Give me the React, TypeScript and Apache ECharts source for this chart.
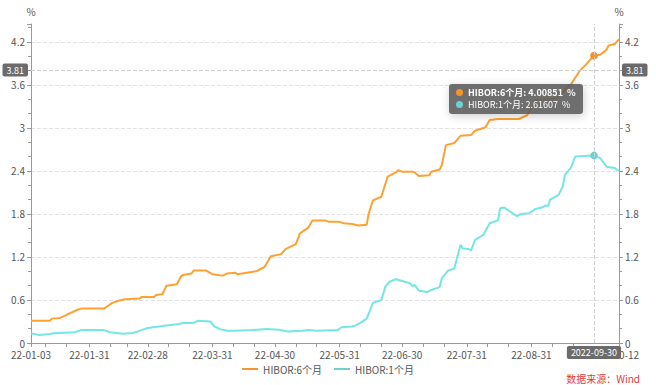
import React, { useEffect, useRef } from "react";
import * as echarts from "echarts";

const DATES_6M = [
  "2022-01-03","2022-01-12","2022-01-13","2022-01-17","2022-01-25","2022-01-27","2022-02-07","2022-02-09",
  "2022-02-11","2022-02-14","2022-02-17","2022-02-24","2022-02-25","2022-03-03","2022-03-04","2022-03-07",
  "2022-03-09","2022-03-14","2022-03-16","2022-03-17","2022-03-21","2022-03-22","2022-03-28","2022-03-31",
  "2022-04-05","2022-04-07","2022-04-11","2022-04-12","2022-04-21","2022-04-25","2022-04-28","2022-05-03",
  "2022-05-05","2022-05-10","2022-05-12","2022-05-16","2022-05-18","2022-05-24","2022-05-26","2022-05-31",
  "2022-06-02","2022-06-06","2022-06-09","2022-06-13","2022-06-14","2022-06-16","2022-06-20","2022-06-21",
  "2022-06-23","2022-06-27","2022-06-28","2022-06-30","2022-07-05","2022-07-06","2022-07-08","2022-07-13",
  "2022-07-14","2022-07-18","2022-07-19","2022-07-21","2022-07-25","2022-07-28","2022-08-02","2022-08-04",
  "2022-08-09","2022-08-11","2022-08-15","2022-08-25","2022-08-29","2022-09-01","2022-09-02","2022-09-12",
  "2022-09-16","2022-09-19","2022-09-23","2022-09-26","2022-09-30","2022-10-03","2022-10-06","2022-10-07",
  "2022-10-10","2022-10-12"
];
const VALUES_6M = [
  0.31,0.31,0.34,0.35,0.46,0.48,0.48,0.52,
  0.56,0.59,0.61,0.62,0.64,0.64,0.67,0.68,
  0.80,0.82,0.93,0.95,0.97,1.01,1.01,0.96,
  0.94,0.97,0.98,0.96,1.00,1.06,1.21,1.24,
  1.31,1.38,1.53,1.61,1.71,1.71,1.69,1.69,
  1.67,1.66,1.64,1.65,1.81,1.99,2.04,2.13,
  2.32,2.38,2.41,2.39,2.39,2.38,2.33,2.34,
  2.39,2.42,2.48,2.76,2.79,2.89,2.90,2.96,
  3.01,3.11,3.125,3.125,3.18,3.32,3.39,3.41,
  3.53,3.61,3.79,3.88,4.00851,4.02,4.09,4.15,
  4.17,4.24
];

const DATES_1M = [
  "2022-01-03","2022-01-07","2022-01-12","2022-01-14","2022-01-24","2022-01-27","2022-02-07","2022-02-10",
  "2022-02-16","2022-02-21","2022-02-25","2022-02-28","2022-03-08","2022-03-14","2022-03-17","2022-03-22",
  "2022-03-24","2022-03-30","2022-04-01","2022-04-04","2022-04-07","2022-04-11","2022-04-19","2022-04-26",
  "2022-05-02","2022-05-06","2022-05-13","2022-05-16","2022-05-20","2022-05-30","2022-06-01","2022-06-06",
  "2022-06-08","2022-06-10","2022-06-13","2022-06-16","2022-06-20","2022-06-22","2022-06-24","2022-06-27",
  "2022-06-30","2022-07-04","2022-07-05","2022-07-06","2022-07-08","2022-07-12","2022-07-14","2022-07-18",
  "2022-07-19","2022-07-22","2022-07-25","2022-07-28","2022-07-29","2022-08-01","2022-08-02","2022-08-04",
  "2022-08-08","2022-08-11","2022-08-15","2022-08-16","2022-08-18","2022-08-22","2022-08-24","2022-08-26",
  "2022-08-30","2022-09-02","2022-09-05","2022-09-07","2022-09-08","2022-09-09","2022-09-13","2022-09-15",
  "2022-09-16","2022-09-19","2022-09-21","2022-09-30","2022-10-03","2022-10-06","2022-10-10","2022-10-12"
];
const VALUES_1M = [
  0.135,0.11,0.125,0.135,0.15,0.18,0.18,0.15,
  0.13,0.14,0.18,0.21,0.24,0.26,0.28,0.28,
  0.31,0.30,0.23,0.19,0.17,0.17,0.18,0.195,
  0.185,0.16,0.17,0.18,0.17,0.18,0.22,0.23,
  0.25,0.28,0.34,0.56,0.60,0.79,0.855,0.89,
  0.865,0.83,0.79,0.81,0.73,0.71,0.74,0.78,
  0.90,1.01,1.04,1.37,1.32,1.31,1.29,1.44,
  1.51,1.67,1.71,1.88,1.89,1.81,1.77,1.80,
  1.81,1.87,1.89,1.92,1.91,2.00,2.065,2.18,
  2.34,2.45,2.60,2.61607,2.58,2.46,2.44,2.40
];

const X_LABEL_DATES = [
  "2022-01-03","2022-01-31","2022-02-28","2022-03-31","2022-04-30","2022-05-31",
  "2022-06-30","2022-07-31","2022-08-31","2022-09-30","2022-10-12"
];
const X_TICK_DATES = [
  "2022-01-03","2022-01-10","2022-01-20","2022-01-31","2022-02-10","2022-02-18","2022-02-28",
  "2022-03-10","2022-03-20","2022-03-31","2022-04-10","2022-04-20","2022-04-30","2022-05-10",
  "2022-05-20","2022-05-31","2022-06-10","2022-06-20","2022-06-30","2022-07-10","2022-07-20",
  "2022-07-31","2022-08-10","2022-08-20","2022-08-31","2022-09-10","2022-09-20","2022-09-30",
  "2022-10-12"
];

const SERIES_NAMES = ["HIBOR:6个月", "HIBOR:1个月"];
const COLORS = ["#f7932d", "#6bd1d1"];

function parseDate(s: string): number {
  const [y, m, d] = s.split("-").map(Number);
  return new Date(y, m - 1, d).getTime();
}
function pad(n: number) {
  return n < 10 ? "0" + n : "" + n;
}
function fmtShort(t: number) {
  const d = new Date(Math.round(t));
  return String(d.getFullYear()).slice(2) + "-" + pad(d.getMonth() + 1) + "-" + pad(d.getDate());
}
function fmtLong(t: number) {
  const d = new Date(Math.round(t));
  return d.getFullYear() + "-" + pad(d.getMonth() + 1) + "-" + pad(d.getDate());
}

const FONT = "'Noto Sans CJK SC', 'Noto Sans', sans-serif";

export default function App() {
  const ref = useRef<HTMLDivElement>(null);
  useEffect(() => {
    if (!ref.current) return;
    document.body.style.margin = "0";
    const chart = echarts.init(ref.current, undefined, { renderer: "svg" });
    const d6 = DATES_6M.map((s, i) => [parseDate(s), VALUES_6M[i]]);
    const d1 = DATES_1M.map((s, i) => [parseDate(s), VALUES_1M[i]]);
    const yAxisBase = (pos: "left" | "right") => ({
      type: "value",
      position: pos,
      min: 0,
      max: 4.45,
      interval: 0.6,
      name: "%",
      nameLocation: "end",
      nameGap: 8,
      nameTextStyle: { color: "#555", fontSize: 10, fontFamily: FONT, align: "center" },
      axisLine: { show: true, lineStyle: { color: "#9a9a9a", width: 1 } },
      axisTick: { show: true, length: 4, lineStyle: { color: "#9a9a9a" } },
      minorTick: { show: true, splitNumber: 3, length: 3, lineStyle: { color: "#9a9a9a" } },
      axisLabel: {
        color: "#555",
        fontSize: 10,
        fontFamily: FONT,
        margin: 6,
        showMaxLabel: false,
        formatter: (v: number) => String(Math.round(v * 10) / 10),
      },
      splitLine: pos === "left"
        ? { show: true, showMaxLine: false, lineStyle: { color: "#e3e3e3", type: "dashed" } }
        : { show: false },
      axisPointer: {
        label: {
          formatter: (p: any) => Number(p.value).toFixed(2),
          backgroundColor: "#6b6b6b",
          color: "#fff",
          fontSize: 9,
          padding: [2, 4],
          borderRadius: 2,
        },
      },
    });
    chart.setOption({
      animation: false,
      color: COLORS,
      textStyle: { fontFamily: FONT },
      grid: { left: 31, right: 37, top: 24, bottom: 42, containLabel: false },
      tooltip: {
        trigger: "axis",
        alwaysShowContent: true,
        transitionDuration: 0,
        position: [449, 84],
        backgroundColor: "rgba(90,90,90,0.88)",
        borderWidth: 0,
        borderRadius: 3,
        padding: [3, 7],
        textStyle: { color: "#fff", fontSize: 9, fontFamily: FONT },
        axisPointer: {
          type: "cross",
          lineStyle: { color: "#cfcfcf", type: "dashed", width: 1 },
          crossStyle: { color: "#cfcfcf", type: "dashed", width: 1 },
        },
        formatter: (params: any[]) =>
          params
            .map((p, i) => {
              const dot = `<span style="display:inline-block;width:7px;height:7px;border-radius:4px;background:${p.color};margin-right:5px;"></span>`;
              const w = i === 0 ? "bold" : "normal";
              return `<div style="line-height:12px;font-size:9px;font-weight:${w}">${dot}${p.seriesName}: ${p.value[1]}&nbsp;&nbsp;%</div>`;
            })
            .join(""),
      },
      legend: {
        bottom: 6,
        left: "center",
        itemWidth: 16,
        itemHeight: 2,
        itemGap: 12,
        icon: "rect",
        textStyle: { color: "#555", fontSize: 10, fontFamily: FONT },
        data: SERIES_NAMES,
      },
      xAxis: {
        type: "value",
        min: parseDate("2022-01-03"),
        max: parseDate("2022-10-12"),
        scale: true,
        axisLine: { lineStyle: { color: "#9a9a9a" } },
        axisTick: {
          show: true,
          length: 4,
          customValues: X_TICK_DATES.map(parseDate),
          lineStyle: { color: "#9a9a9a" },
        },
        axisLabel: {
          customValues: X_LABEL_DATES.map(parseDate),
          formatter: (v: number) => fmtShort(v),
          color: "#555",
          fontSize: 10,
          fontFamily: FONT,
          hideOverlap: false,
          showMinLabel: true,
          showMaxLabel: true,
          margin: 6,
        },
        splitLine: { show: false },
        axisPointer: {
          snap: true,
          label: {
            formatter: (p: any) => fmtLong(p.value),
            backgroundColor: "#6b6b6b",
            color: "#fff",
            fontSize: 9,
            padding: [2, 4],
            borderRadius: 2,
          },
        },
      },
      yAxis: [yAxisBase("left"), yAxisBase("right")],
      series: SERIES_NAMES.map((name, i) => ({
        name,
        type: "line",
        data: i === 0 ? d6 : d1,
        showSymbol: false,
        symbol: "circle",
        symbolSize: 7,
        itemStyle: { color: COLORS[i] },
        lineStyle: { width: 2, color: COLORS[i] },
      })),
      graphic: [
        {
          type: "text",
          right: 16,
          bottom: 2,
          style: { text: "数据来源：Wind", fill: "#e23b3b", fontSize: 10, fontFamily: FONT },
        },
      ],
    });
    try {
      chart.dispatchAction({ type: "showTip", x: 594, y: 70 });
    } catch (e) {
      console.error(e);
    }
    return () => chart.dispose();
  }, []);
  return <div ref={ref} style={{ width: 656, height: 385, background: "#fff" }} />;
}
